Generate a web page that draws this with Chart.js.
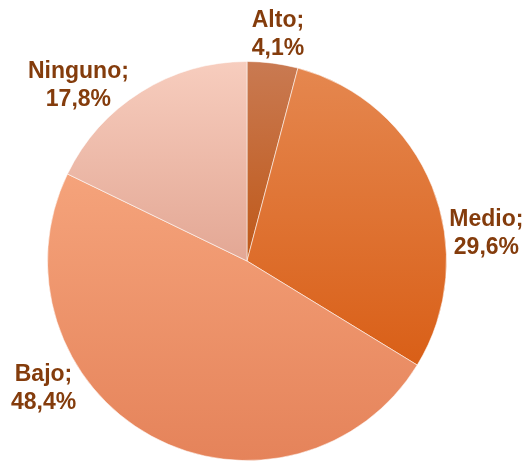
<!DOCTYPE html>
<html>
<head>
<meta charset="utf-8">
<script src="https://cdn.jsdelivr.net/npm/chart.js@4/dist/chart.umd.min.js"></script>
<style>
  html, body { margin: 0; padding: 0; background: #ffffff; }
  #wrap { width: 527px; height: 462px; }
</style>
</head>
<body>
<div id="wrap"><canvas id="pie" width="527" height="462"></canvas></div>
<script>
// Nivel de participación (%)
const categories = ["Alto", "Medio", "Bajo", "Ninguno"];
const values = [4.1, 29.6, 48.4, 17.8];
const valueLabels = ["4,1%", "29,6%", "48,4%", "17,8%"];

// Vertical gradient per slice: [top colour, bottom colour]
const sliceColors = [
  ["#c97a52", "#bf5818"],
  ["#e5874f", "#d95f17"],
  ["#f5a37b", "#e5835a"],
  ["#f7cdbe", "#e3a794"]
];

// Label block centres, in units of the pie radius from its centre
const labelOffsets = [
  [0.155, -1.135],
  [1.20, -0.135],
  [-1.02, 0.64],
  [-0.845, -0.88]
];

function sliceGradient(ctx) {
  const chart = ctx.chart;
  const area = chart.chartArea;
  if (!area) return sliceColors[ctx.dataIndex][0];
  const cx = (area.left + area.right) / 2;
  const cy = (area.top + area.bottom) / 2;
  const r = Math.min(area.right - area.left, area.bottom - area.top) / 2;
  const total = values.reduce((a, b) => a + b, 0);
  let start = 0;
  for (let i = 0; i < ctx.dataIndex; i++) start += values[i];
  const end = start + values[ctx.dataIndex];
  // angles measured clockwise from 12 o'clock
  const a0 = start / total * Math.PI * 2;
  const a1 = end / total * Math.PI * 2;
  const ys = [cy, cy - r * Math.cos(a0), cy - r * Math.cos(a1)];
  if (a0 <= 0 && a1 >= 0) ys.push(cy - r);
  if (a0 <= Math.PI && a1 >= Math.PI) ys.push(cy + r);
  if (a1 >= Math.PI * 2) ys.push(cy - r);
  const yTop = Math.min(...ys), yBot = Math.max(...ys);
  const g = chart.ctx.createLinearGradient(0, yTop, 0, yBot);
  g.addColorStop(0, sliceColors[ctx.dataIndex][0]);
  g.addColorStop(1, sliceColors[ctx.dataIndex][1]);
  return g;
}

const sliceLabels = {
  id: "sliceLabels",
  afterDatasetsDraw(chart) {
    const c = chart.ctx;
    const meta = chart.getDatasetMeta(0);
    c.save();
    c.font = "bold 23px 'Liberation Sans', Arial, sans-serif";
    c.fillStyle = "#843c0c";
    c.textAlign = "center";
    c.textBaseline = "middle";
    meta.data.forEach((arc, i) => {
      const r = arc.outerRadius;
      const x = arc.x + labelOffsets[i][0] * r;
      const y = arc.y + labelOffsets[i][1] * r;
      c.fillText(categories[i] + ";", x, y - 14);
      c.fillText(valueLabels[i], x, y + 14);
    });
    c.restore();
  }
};

new Chart(document.getElementById("pie"), {
  type: "pie",
  data: {
    labels: categories,
    datasets: [{
      data: values,
      backgroundColor: sliceGradient,
      borderColor: "rgba(255,255,255,0.55)",
      borderWidth: 1
    }]
  },
  options: {
    responsive: false,
    animation: false,
    rotation: 0,
    layout: { padding: { top: 61, bottom: 1, left: 47, right: 80 } },
    plugins: {
      legend: { display: false },
      tooltip: { enabled: false }
    }
  },
  plugins: [sliceLabels]
});
</script>
</body>
</html>
